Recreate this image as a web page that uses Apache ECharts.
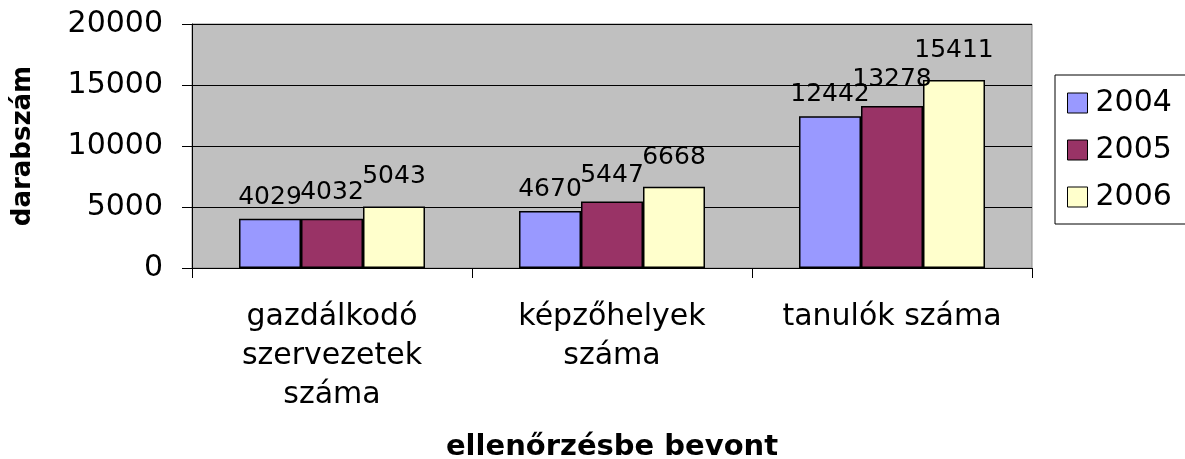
<!DOCTYPE html>
<html>
<head>
<meta charset="utf-8">
<script src="https://cdn.jsdelivr.net/npm/echarts@6/dist/echarts.min.js"></script>
<style>
  html, body { margin: 0; padding: 0; background: #fff; }
  #chart { width: 1185px; height: 459px; }
</style>
</head>
<body>
<div id="chart"></div>
<script>
const FONT = "DejaVu Sans";

const categories = ["gazdálkodó\nszervezetek\nszáma", "képzőhelyek\nszáma", "tanulók száma"];
const years = ["2004", "2005", "2006"];
const values2004 = [4029, 4670, 12442];
const values2005 = [4032, 5447, 13278];
const values2006 = [5043, 6668, 15411];
const yTicks = [0, 5000, 10000, 15000, 20000];

const colors = ["#9999FF", "#993366", "#FFFFCC"];
const labelDistance = [9, 14, 17];
const seriesValues = [values2004, values2005, values2006];

const chart = echarts.init(document.getElementById("chart"), null, { renderer: "canvas" });

chart.setOption({
  backgroundColor: "#fff",
  animation: false,
  textStyle: { fontFamily: FONT },
  grid: {
    left: 192, right: 153, top: 24, bottom: 191,
    outerBoundsMode: "none",
    containLabel: false,
    show: true,
    backgroundColor: "#C0C0C0",
    borderColor: "#8a8a8a",
    borderWidth: 1,
  },
  legend: {
    orient: "vertical",
    left: 1055, top: 75,
    width: 131, height: 141,
    padding: [13, 40, 12, 12],
    itemWidth: 20, itemHeight: 20, itemGap: 17,
    icon: "rect",
    borderColor: "#000", borderWidth: 1,
    backgroundColor: "#fff",
    itemStyle: { borderColor: "#000", borderWidth: 1 },
    textStyle: { fontFamily: FONT, fontSize: 30, lineHeight: 30, color: "#000", padding: [0, 0, 0, 3] },
    data: years,
  },
  xAxis: {
    type: "category",
    data: categories,
    name: "ellenőrzésbe bevont",
    nameLocation: "middle",
    nameGap: 165,
    nameTextStyle: { fontFamily: FONT, fontSize: 29, fontWeight: "bold", color: "#000" },
    axisLine: { lineStyle: { color: "#000", width: 1 } },
    axisTick: { show: true, length: 10, lineStyle: { color: "#000" } },
    axisLabel: {
      interval: 0, margin: 30, fontFamily: FONT, fontSize: 30, lineHeight: 39,
      color: "#000", align: "center", verticalAlign: "top",
    },
  },
  yAxis: {
    type: "value",
    min: yTicks[0], max: yTicks[yTicks.length - 1], interval: yTicks[1] - yTicks[0],
    name: "darabszám",
    nameLocation: "middle",
    nameGap: 156,
    nameTextStyle: { fontFamily: FONT, fontSize: 26, fontWeight: "bold", color: "#000" },
    axisLine: { show: true, lineStyle: { color: "#000", width: 1 } },
    axisTick: { show: true, length: 10, lineStyle: { color: "#000" } },
    axisLabel: { margin: 29, fontFamily: FONT, fontSize: 30, color: "#000", formatter: (v) => String(v) },
    splitLine: { show: true, lineStyle: { color: "#000", width: 1 } },
  },
  series: years.map((y, i) => ({
    name: y,
    type: "bar",
    data: seriesValues[i],
    barWidth: 62,
    barGap: "0%",
    itemStyle: { color: colors[i], borderColor: "#000", borderWidth: 1.5 },
    label: {
      show: true, position: "top", distance: labelDistance[i],
      fontFamily: FONT, fontSize: 25, color: "#000",
    },
  })),
});
</script>
</body>
</html>
